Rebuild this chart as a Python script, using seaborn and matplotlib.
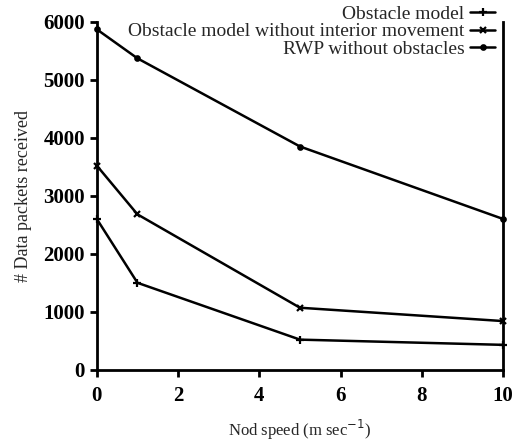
import matplotlib
matplotlib.use("Agg")
import matplotlib.pyplot as plt
import seaborn as sns
import pandas as pd

speeds = [0, 1, 5, 10]
obstacle_model = [2600, 1500, 520, 430]
obstacle_no_interior = [3520, 2680, 1070, 840]
rwp_no_obstacles = [5870, 5370, 3850, 2600]
series_names = ["Obstacle model", "Obstacle model without interior movement", "RWP without obstacles"]

sns.set_theme(style="ticks")
plt.rcParams['font.family'] = ['Liberation Serif', 'DejaVu Serif']

rows = []
for name, vals in zip(series_names, [obstacle_model, obstacle_no_interior, rwp_no_obstacles]):
    for s, v in zip(speeds, vals):
        rows.append({"speed": s, "packets": v, "series": name})
df = pd.DataFrame(rows)

fig = plt.figure(figsize=(5.15, 4.45), dpi=100)
ax = fig.add_axes([0.188, 0.169, 0.789, 0.782])
markers = {"Obstacle model": "+", "Obstacle model without interior movement": "x",
           "RWP without obstacles": "o"}
sizes = {"Obstacle model": 6, "Obstacle model without interior movement": 4,
         "RWP without obstacles": 3.2}
for name in series_names:
    d = df[df.series == name]
    sns.lineplot(data=d, x="speed", y="packets", ax=ax, color="black", lw=1.8,
                 marker=markers[name], markersize=sizes[name], markeredgewidth=1.6,
                 markeredgecolor="black", markerfacecolor="black",
                 label=name, clip_on=False)

ax.set_xlim(0, 10)
ax.set_ylim(0, 6000)
ax.set_xticks([0, 2, 4, 6, 8, 10])
ax.set_yticks([0, 1000, 2000, 3000, 4000, 5000, 6000])
for side in ["left", "bottom", "right"]:
    ax.spines[side].set_linewidth(2)
    ax.spines[side].set_color("black")
ax.spines["top"].set_visible(False)
ax.tick_params(axis="both", direction="out", width=2, length=5, labelsize=15, colors="black",
               right=False)
ax.tick_params(axis="x", pad=7)
for lbl in ax.get_xticklabels() + ax.get_yticklabels():
    lbl.set_fontweight("bold")
ax.set_xlabel("Nod speed (m sec$^{-1}$)", fontsize=12, labelpad=8)
ax.set_ylabel("# Data packets received", fontsize=13, labelpad=8)

leg = ax.legend(loc="upper right", bbox_to_anchor=(1.0, 1.07), frameon=False, markerfirst=False,
                fontsize=14, handlelength=1.3, handletextpad=0.3, labelspacing=0.0,
                borderaxespad=0)
for t in leg.get_texts():
    t.set_ha("right")

fig.savefig("out.png", dpi=100)
